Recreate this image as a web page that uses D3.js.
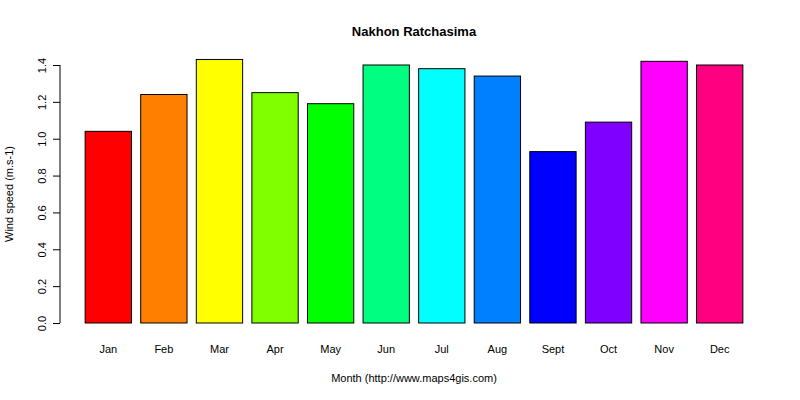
<!DOCTYPE html>
<html><head><meta charset="utf-8">
<script src="https://cdn.jsdelivr.net/npm/d3@7"></script>
<style>body{margin:0;background:#fff}text{font-family:"Liberation Sans",Arial,sans-serif}</style>
</head><body>
<svg id="c" width="800" height="400"></svg>
<script>
const months=["Jan","Feb","Mar","Apr","May","Jun","Jul","Aug","Sept","Oct","Nov","Dec"];
const values=[1.04,1.24,1.43,1.25,1.19,1.40,1.38,1.34,0.93,1.09,1.42,1.40];
const colors=["#FF0000","#FF8000","#FFFF00","#80FF00","#00FF00","#00FF80","#00FFFF","#0080FF","#0000FF","#8000FF","#FF00FF","#FF0080"];
const yTicks=[0,0.2,0.4,0.6,0.8,1.0,1.2,1.4];
const svg=d3.select("#c");
const y=d3.scaleLinear().domain([0,1.4]).range([323,65]);
const x=d3.scaleBand().domain(months).range([80.5,747.5]).paddingInner(0.1667).paddingOuter(0.0834);
svg.selectAll("rect.b").data(values).enter().append("rect")
 .attr("x",(d,i)=>x(months[i])).attr("y",d=>y(d)).attr("width",x.bandwidth())
 .attr("height",d=>y(0)-y(d)).attr("fill",(d,i)=>colors[i]).attr("stroke","#000");
const ax=svg.append("g").attr("transform","translate(60,0)")
 .call(d3.axisLeft(y).tickValues(yTicks).tickSize(7).tickFormat(d3.format(".1f")));
ax.select(".domain").attr("d","M0,323V65");
ax.selectAll("text").attr("transform",d=>`rotate(-90,-10,${y(d)})`).attr("x",-10).attr("dy","-0.2em")
 .attr("text-anchor","middle").style("font-size","11px").attr("y",y=>0).attr("dx",0);
ax.selectAll(".tick text").each(function(d){d3.select(this).attr("x",-14).attr("y",0).attr("transform",`rotate(-90,-14,0)`).attr("dy","0em")});
months.forEach((m,i)=>svg.append("text").attr("x",x(m)+x.bandwidth()/2).attr("y",353).attr("text-anchor","middle").style("font-size","11px").text(m));
svg.append("text").attr("x",414).attr("y",36).attr("text-anchor","middle").style("font-size","13px").style("font-weight","bold").text("Nakhon Ratchasima");
svg.append("text").attr("x",414).attr("y",382).attr("text-anchor","middle").style("font-size","11px").text("Month (http://www.maps4gis.com)");
svg.append("text").attr("transform","translate(13,194) rotate(-90)").attr("text-anchor","middle").style("font-size","11px").text("Wind speed (m.s-1)");
</script></body></html>
